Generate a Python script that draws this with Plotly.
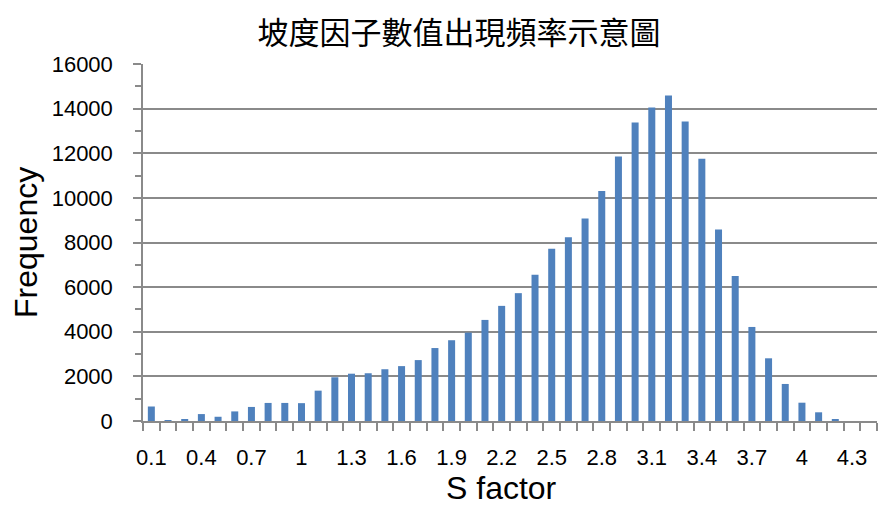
import plotly.graph_objects as go

# S factor bins (0.1 .. 4.4) and how often each value occurs
s_factor = [round(0.1 * i, 1) for i in range(1, 45)]
frequency = [
    650, 20, 60, 310, 190, 430, 630, 810, 810, 800,
    1360, 1960, 2120, 2140, 2320, 2460, 2730, 3270, 3620, 3960,
    4530, 5160, 5730, 6550, 7720, 8230, 9080, 10310, 11850, 13380,
    14050, 14590, 13420, 11750, 8580, 6500, 4215, 2810, 1660, 820,
    390, 60, 0, 0,
]
tick_values = s_factor[::3]
tick_labels = [f"{v:g}" for v in tick_values]

title_text = "坡度因子數值出現頻率示意圖"
x_title = "S factor"
y_title = "Frequency"

grid_color = "#8a8a8a"
bar_color = "#4f81bd"
label_font = dict(family="Liberation Sans, Arial, sans-serif", size=22, color="#000000")
axis_title_font = dict(family="Liberation Sans, Arial, sans-serif", size=32, color="#000000")

fig = go.Figure(
    go.Bar(
        x=s_factor,
        y=frequency,
        marker=dict(color=bar_color, line=dict(width=0)),
        width=0.042,
    )
)

fig.update_layout(
    width=880,
    height=505,
    margin=dict(l=143, r=3, t=64, b=84),
    paper_bgcolor="#ffffff",
    plot_bgcolor="#ffffff",
    showlegend=False,
    title=dict(
        text=title_text,
        x=459 / 880,
        xanchor="center",
        y=1 - 33 / 505,
        yanchor="middle",
        font=dict(family="Noto Sans CJK TC, sans-serif", size=31, color="#000000"),
    ),
    annotations=[
        dict(text=x_title, xref="paper", yref="paper",
             x=(501 - 143) / 734, y=-(488 - 421) / 357,
             xanchor="center", yanchor="middle", showarrow=False,
             font=axis_title_font),
        dict(text=y_title, xref="paper", yref="paper",
             x=-(143 - 26) / 734, y=(421 - 243) / 357,
             xanchor="center", yanchor="middle", showarrow=False,
             textangle=-90, font=axis_title_font),
    ],
)

fig.update_xaxes(
    range=[0.05, 4.45],
    tickmode="array",
    tickvals=tick_values,
    ticktext=tick_labels,
    ticks="",
    ticklabelstandoff=16,
    tickfont=label_font,
    showgrid=False,
    showline=True,
    linecolor=grid_color,
    linewidth=1.5,
    zeroline=False,
    minor=dict(tick0=0.05, dtick=0.1, ticks="outside", ticklen=8,
               tickcolor=grid_color, tickwidth=1.5, showgrid=False),
)

fig.update_yaxes(
    range=[0, 16000],
    dtick=2000,
    tickformat="d",
    ticks="outside",
    ticklen=8,
    tickcolor=grid_color,
    tickwidth=1.5,
    ticklabelstandoff=16,
    tickfont=label_font,
    showgrid=True,
    gridcolor=grid_color,
    gridwidth=1.5,
    showline=True,
    linecolor=grid_color,
    linewidth=1.5,
    zeroline=False,
    minor=dict(dtick=1000, ticks="outside", ticklen=6,
               tickcolor=grid_color, tickwidth=1.5, showgrid=False),
)

fig.write_html("out.html")
